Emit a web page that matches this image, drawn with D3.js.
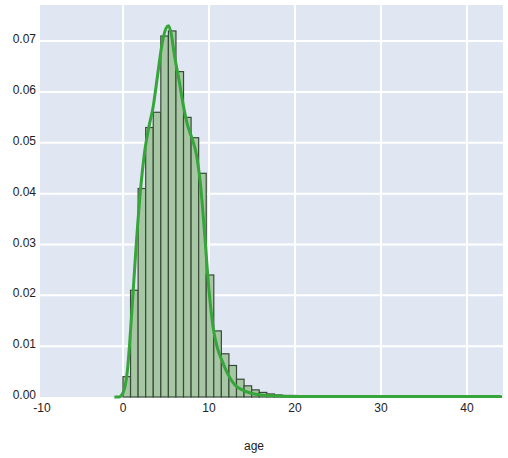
<!DOCTYPE html>
<html>
<head>
<meta charset="utf-8">
<script src="https://cdn.jsdelivr.net/npm/d3@7/dist/d3.min.js"></script>
<style>
  html, body { margin: 0; padding: 0; background: #ffffff; }
  svg { display: block; }
  text { font-family: "Liberation Sans", Arial, sans-serif; }
</style>
</head>
<body>
<svg id="chart" width="508" height="458"></svg>
<script>
// ---- data ----
const binStart = 0;
const binWidth = 0.88;
const histDensity = [
  0.004, 0.021, 0.041, 0.053, 0.056, 0.071, 0.072, 0.064, 0.055, 0.051,
  0.044, 0.024, 0.013, 0.0085, 0.0062, 0.0035, 0.0022, 0.0014, 0.0009, 0.0006,
  0.0004, 0.0003, 0.0003, 0.0002, 0.0002, 0.0002, 0.0002, 0.0001, 0.0001, 0.0001,
  0.0001, 0.0001, 0.0001, 0.0001, 0.0001, 0.0001, 0.0001, 0.0001, 0.0001, 0.0001,
  0.0001, 0.0001, 0.0001, 0.0001, 0.0001, 0.0001, 0.0001, 0.0001, 0.0001, 0.0001
];
const kdeAge = [-1.0, -0.5, 0.0, 0.5, 1.0, 1.5, 2.0, 2.5, 3.0, 3.5, 4.0, 4.5, 5.0, 5.3, 5.6, 6.0, 6.5, 7.0, 7.5, 8.0, 8.5, 9.0, 9.5, 10.0, 10.5, 11.0, 11.5, 12.0, 12.5, 13.0, 14.0, 15.0, 16.0, 18.0, 20.0, 30.0, 44.0];
const kdeDensity = [0.0, 0.0, 0.0008, 0.005, 0.016, 0.029, 0.040, 0.048, 0.053, 0.057, 0.063, 0.069, 0.0725, 0.073, 0.0715, 0.067, 0.0625, 0.0575, 0.0535, 0.051, 0.048, 0.042, 0.032, 0.021, 0.0135, 0.0095, 0.0072, 0.0052, 0.0036, 0.0024, 0.0013, 0.0007, 0.0004, 0.0002, 0.0001, 0.0001, 0.0001];
const xTicks = [-10, 0, 10, 20, 30, 40];
const yTicks = [0.00, 0.01, 0.02, 0.03, 0.04, 0.05, 0.06, 0.07];
const xLabel = "age";

// ---- layout ----
const svg = d3.select("#chart");
const plotL = 40, plotR = 503, plotT = 5, plotB = 397;
const x = d3.scaleLinear().domain([-9.65, 44.19]).range([plotL, plotR]);
const y = d3.scaleLinear().domain([0, 0.0771]).range([plotB, plotT]);

// background
svg.append("rect").attr("x", plotL).attr("y", plotT)
  .attr("width", plotR - plotL).attr("height", plotB - plotT)
  .attr("fill", "#e1e6f3");

// gridlines
svg.append("g").selectAll("line").data(yTicks.filter(d => d > 0)).join("line")
  .attr("x1", plotL).attr("x2", plotR)
  .attr("y1", d => y(d)).attr("y2", d => y(d))
  .attr("stroke", "#ffffff").attr("stroke-width", 2);
svg.append("g").selectAll("line").data(xTicks.filter(d => x(d) > plotL)).join("line")
  .attr("y1", plotT).attr("y2", plotB)
  .attr("x1", d => x(d)).attr("x2", d => x(d))
  .attr("stroke", "#ffffff").attr("stroke-width", 2);

// histogram bars
const bars = histDensity.map((v, i) => ({ x0: binStart + i * binWidth, x1: binStart + (i + 1) * binWidth, v }));
svg.append("g").selectAll("rect").data(bars).join("rect")
  .attr("x", d => x(d.x0))
  .attr("width", d => x(d.x1) - x(d.x0))
  .attr("y", d => y(d.v))
  .attr("height", d => y(0) - y(d.v))
  .attr("fill", "#a7c7a4")
  .attr("stroke", "#3a4a3a")
  .attr("stroke-width", 1.2);

// kde line
const line = d3.line()
  .x((d, i) => x(kdeAge[i]))
  .y(d => y(d))
  .curve(d3.curveMonotoneX);
svg.append("path").datum(kdeDensity)
  .attr("d", line)
  .attr("fill", "none")
  .attr("stroke", "#36a53a")
  .attr("stroke-width", 3)
  .attr("stroke-linejoin", "round");

// y tick labels
svg.append("g").selectAll("text").data(yTicks).join("text")
  .attr("x", 36).attr("y", d => y(d) - 1)
  .attr("text-anchor", "end")
  .attr("dominant-baseline", "middle")
  .attr("font-size", 12).attr("fill", "#222")
  .text(d => d3.format(".2f")(d));

// x tick labels
svg.append("g").selectAll("text").data(xTicks).join("text")
  .attr("x", d => x(d) + (d < 0 ? 5 : 0))
  .attr("y", 412)
  .attr("text-anchor", "middle")
  .attr("font-size", 12).attr("fill", "#222")
  .text(d => d);

// x axis label
svg.append("text")
  .attr("x", 254).attr("y", 450)
  .attr("text-anchor", "middle")
  .attr("font-size", 12).attr("fill", "#222")
  .text(xLabel);
</script>
</body>
</html>
